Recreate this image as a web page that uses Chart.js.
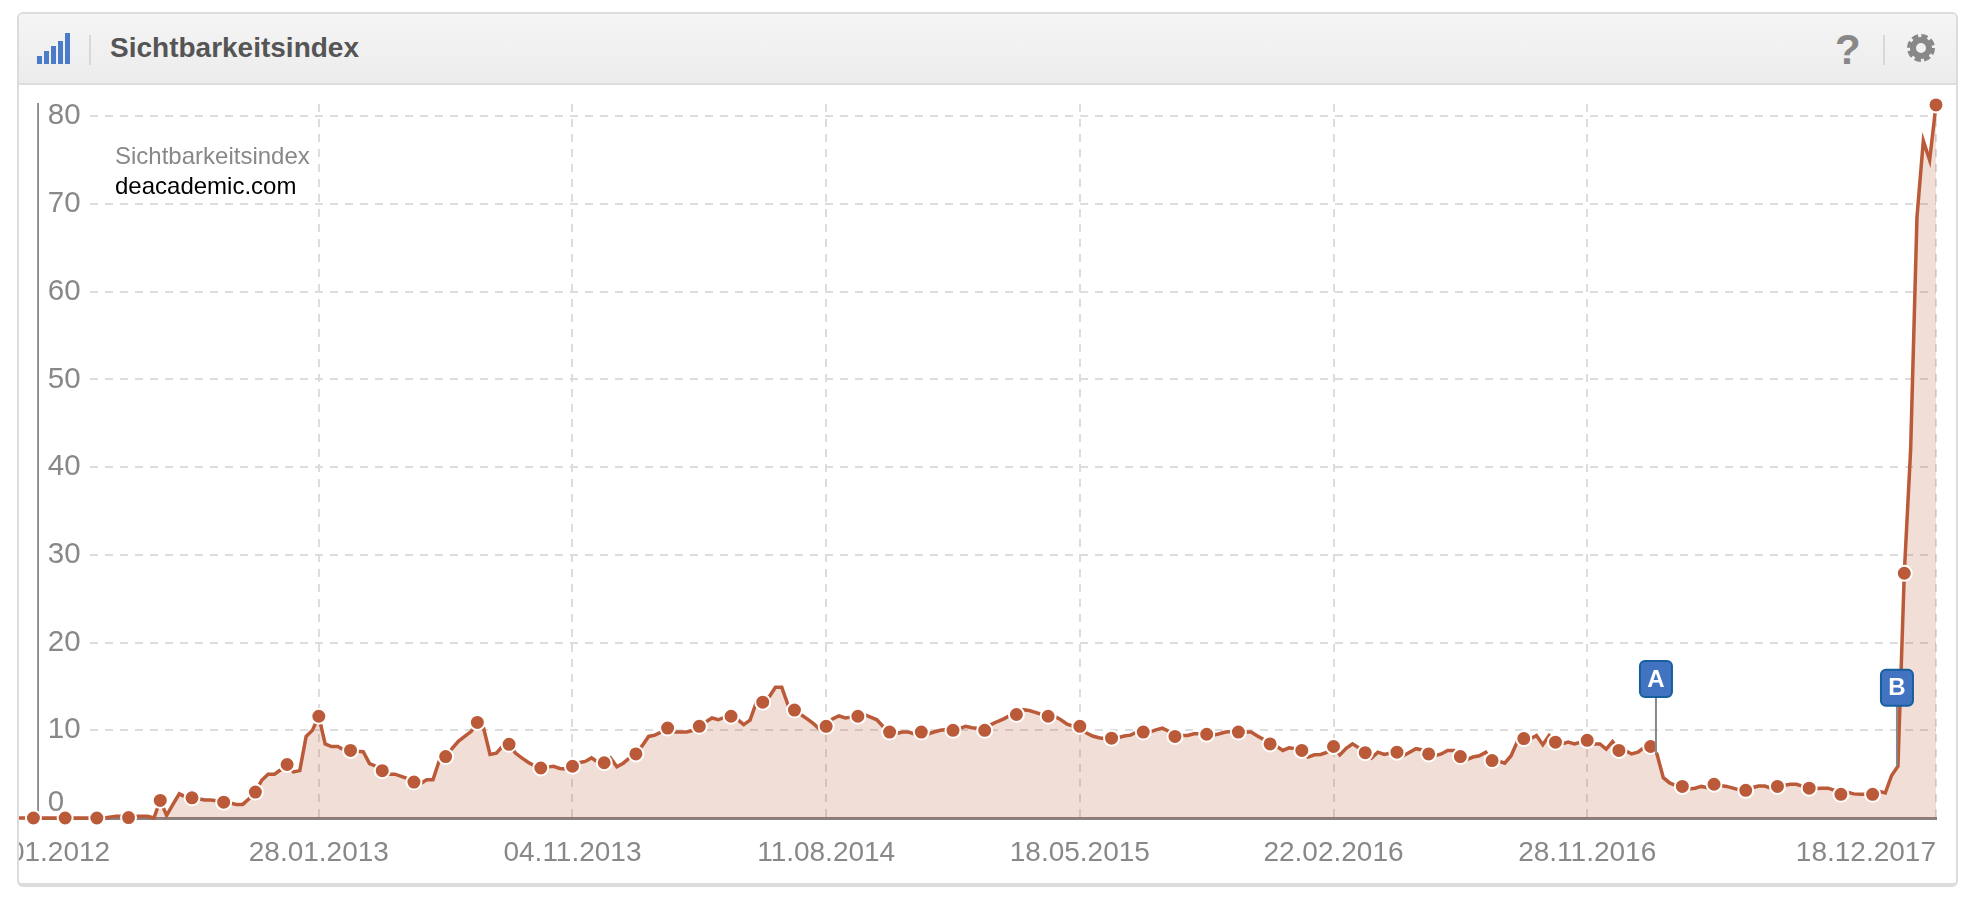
<!DOCTYPE html>
<html lang="de">
  <head>
    <meta charset="utf-8" />
    <title>Sichtbarkeitsindex</title>
    <style>
      html, body { margin: 0; width: 1970px; height: 902px; background: #fff; overflow: hidden; font-family: "Liberation Sans", Arial, sans-serif; }
      .panel { position: absolute; left: 17px; top: 12px; width: 1937px; height: 869px; border: 2px solid #dcdcdc; border-bottom-width: 4px; border-radius: 6px; box-sizing: content-box; overflow: hidden; }
      .head { position: absolute; left: 0; top: 0; width: 100%; height: 69px; background: linear-gradient(#f5f5f5, #ececec); border-bottom: 2px solid #dcdcdc; }
      .head .title { position: absolute; left: 91px; top: 18px; font-size: 28px; font-weight: bold; color: #555; line-height: 32px; }
      .head .sep { position: absolute; top: 21px; width: 2px; height: 30px; background: #d8d8d8; }
      .head .bar { position: absolute; width: 5px; background: #4a7cc9; }
      .head .help { position: absolute; left: 1816px; top: 12px; font-size: 42px; font-weight: bold; color: #888; line-height: 48px; }
      .head svg { position: absolute; left: 1887px; top: 19px; }
      .plot { position: absolute; left: 0; top: 71px; width: 1937px; height: 798px; overflow: hidden; }
      canvas { position: absolute; left: -59px; top: 0; }
      .legend { position: absolute; left: 96px; top: 56px; font-size: 24px; line-height: 30px; color: #888; }
      .legend div + div { color: #000; }
    </style>
  </head>
  <body>
    <div class="panel">
      <div class="head">
        <div class="bar" style="left:18px;top:42px;height:8px"></div>
        <div class="bar" style="left:25px;top:37px;height:13px"></div>
        <div class="bar" style="left:32px;top:32px;height:18px"></div>
        <div class="bar" style="left:39px;top:27px;height:23px"></div>
        <div class="bar" style="left:46px;top:19px;height:31px"></div>
        <div class="sep" style="left:70px"></div>
        <div class="title">Sichtbarkeitsindex</div>
        <div class="help">?</div>
        <div class="sep" style="left:1864px"></div>
        <svg width="30" height="30" viewBox="0 0 30 30">
          <circle cx="15" cy="15" r="11.5" fill="none" stroke="#888" stroke-width="5" stroke-dasharray="6 3.03"></circle>
          <circle cx="15" cy="15" r="8" fill="none" stroke="#888" stroke-width="6"></circle>
        </svg>
      </div>
      <div class="plot">
        <canvas id="sichtbarkeit" width="2000" height="785"></canvas>
        <div class="legend">
          <div>Sichtbarkeitsindex</div>
          <div>deacademic.com</div>
        </div>
      </div>
    </div>

    <script src="https://cdn.jsdelivr.net/npm/chart.js@4/dist/chart.umd.min.js"></script>
    <script>
      const SERIES_NAME = "Sichtbarkeitsindex";

      // weekly values, one row = 10 weeks
      const weeklyValues = [
        0, 0, 0, 0, 0, 0, 0, 0, 0, 0,
        0, 0, 0, 0, 0, 0, 0, 0, 0, 0,
        0, 0, 0.1, 0.2, 0.2, 0.05, 0.2, 0.2, 0.2, 0,
        2.0, 0.3, 1.55, 2.75, 2.4, 2.3, 2.2, 2.05, 2.05, 1.95,
        1.8, 1.7, 1.55, 1.55, 2.2, 2.95, 4.3, 5.0, 5.0, 5.5,
        6.1, 5.25, 5.4, 9.3, 10.0, 11.6, 8.45, 8.15, 8.15, 7.75,
        7.7, 7.6, 7.55, 6.2, 5.9, 5.4, 5.0, 5.0, 4.75, 4.5,
        4.1, 3.9, 4.35, 4.35, 6.55, 7.0, 7.9, 8.75, 9.3, 9.85,
        10.9, 10.2, 7.25, 7.4, 8.2, 8.4, 7.4, 6.85, 6.35, 5.95,
        5.7, 5.8, 5.9, 5.65, 5.6, 5.9, 6.3, 6.45, 6.85, 6.35,
        6.3, 6.85, 5.85, 6.25, 6.85, 7.3, 8.25, 9.3, 9.45, 9.8,
        10.25, 9.8, 9.8, 9.8, 10, 10.45, 10.95, 11.4, 11.2, 11.5,
        11.6, 11.25, 10.65, 11.15, 13.2, 13.2, 13.8, 14.9, 14.9, 12.85,
        12.3, 11.8, 11.3, 10.75, 10.1, 10.45, 11.3, 11.65, 11.4, 11.5,
        11.6, 11.8, 11.5, 11.2, 10.4, 9.8, 9.6, 9.8, 9.8, 9.55,
        9.8, 9.55, 9.8, 10, 10.1, 10, 10.2, 10.45, 10.3, 10.2,
        10, 10.65, 11, 11.3, 11.7, 11.8, 12.35, 12.25, 12.05, 11.8,
        11.6, 11.6, 11.2, 10.7, 10.45, 10.45, 9.7, 9.35, 9.15, 9.05,
        9.1, 9.15, 9.35, 9.45, 9.8, 9.8, 9.8, 10.05, 10.25, 9.9,
        9.3, 9.4, 9.4, 9.6, 9.6, 9.55, 9.45, 9.6, 9.8, 9.85,
        9.8, 9.8, 9.8, 9.35, 8.95, 8.45, 8.2, 7.7, 8.0, 7.9,
        7.7, 6.95, 7.2, 7.25, 7.5, 8.15, 7.2, 7.95, 8.45, 8.0,
        7.45, 6.85, 7.5, 7.25, 7.4, 7.5, 7.1, 7.5, 7.9, 7.75,
        7.3, 7.1, 7.3, 7.7, 7.7, 7.0, 6.65, 6.95, 7.1, 7.5,
        6.55, 6.5, 6.25, 7.1, 8.75, 9.05, 9.0, 9.4, 8.35, 9.4,
        8.65, 8.45, 8.65, 8.45, 8.65, 8.85, 8.45, 8.45, 7.85, 8.7,
        7.7, 7.7, 7.3, 7.5, 8.05, 8.15, 7.3, 4.6, 4.0, 3.7,
        3.6, 3.3, 3.4, 3.6, 3.45, 3.85, 3.7, 3.6, 3.4, 3.2,
        3.15, 3.45, 3.65, 3.65, 3.4, 3.6, 3.7, 3.85, 3.85, 3.6,
        3.4, 3.35, 3.4, 3.4, 3.15, 2.7, 2.95, 2.75, 2.7, 2.7,
        2.7, 3.05, 2.85, 4.85, 5.9, 27.9, 42, 68.5, 77.2, 75, 81.3,
      ];

      const dateTickIndexes = [0, 55, 95, 135, 175, 215, 255, 310];
      const dateTickLabels = ["02.01.2012", "28.01.2013", "04.11.2013", "11.08.2014", "18.05.2015", "22.02.2016", "28.11.2016", "18.12.2017"];

      const flagLetters = ["A", "B"];
      const flagWeeks = [266, 304];
      const flagLevels = [15.85, 14.85];

      const weeks = weeklyValues.map((v, i) => i);

      const LINE_COLOR = "#bb5a38";
      const GRID_COLOR = "#dddddd";
      const TEXT_COLOR = "#888888";
      const GRID_DASH = [8, 7];
      const MARKER_EVERY = 5;
      const Y_MAX = 81.4;
      const Y_LINE_AT = 10.75;

      // draws the A/B flags and wipes the grid left of the y axis
      const chartExtras = {
        id: "chartExtras",
        beforeDatasetsDraw(chart) {
          const { ctx, chartArea, scales } = chart;
          const axisX = scales.x.getPixelForValue(Y_LINE_AT);
          ctx.save();
          ctx.fillStyle = "#fff";
          ctx.fillRect(0, chartArea.top - 2, axisX - 1, chartArea.bottom - chartArea.top + 4);
          ctx.restore();
        },
        afterDatasetsDraw(chart) {
          const { ctx, scales } = chart;
          ctx.save();
          flagLetters.forEach((letter, n) => {
            const x = scales.x.getPixelForValue(flagWeeks[n]) - 1;
            const y = scales.y.getPixelForValue(flagLevels[n]);
            const base = scales.y.getPixelForValue(weeklyValues[flagWeeks[n]]);
            ctx.strokeStyle = "#888";
            ctx.lineWidth = 2;
            ctx.beginPath();
            ctx.moveTo(x, y);
            ctx.lineTo(x, base);
            ctx.stroke();
            ctx.fillStyle = "#4273c1";
            ctx.strokeStyle = "#165f9c";
            ctx.beginPath();
            ctx.roundRect(x - 16, y - 18, 32, 36, 5);
            ctx.fill();
            ctx.stroke();
            ctx.fillStyle = "#fff";
            ctx.font = "bold 24px 'Liberation Sans'";
            ctx.textAlign = "center";
            ctx.textBaseline = "middle";
            ctx.fillText(letter, x, y + 1);
          });
          ctx.restore();
        },
      };

      new Chart(document.getElementById("sichtbarkeit"), {
        type: "line",
        plugins: [chartExtras],
        data: {
          labels: weeks,
          datasets: [
            {
              label: SERIES_NAME,
              data: weeklyValues,
              borderColor: LINE_COLOR,
              borderWidth: 3.5,
              backgroundColor: "rgba(187, 90, 56, 0.2)",
              fill: "origin",
              tension: 0,
              clip: false,
              pointRadius: (ctx) => (ctx.dataIndex % MARKER_EVERY === 0 ? 7.5 : 0),
              pointBackgroundColor: LINE_COLOR,
              pointBorderColor: "#fff",
              pointBorderWidth: 2,
            },
          ],
        },
        options: {
          responsive: false,
          animation: false,
          layout: { padding: { left: 10, right: 24, top: 19, bottom: 0 } },
          plugins: { legend: { display: false }, tooltip: { enabled: false } },
          scales: {
            x: {
              type: "category",
              afterBuildTicks: (scale) => {
                scale.ticks = scale.ticks.filter((t) => dateTickIndexes.includes(t.value));
              },
              afterFit: (scale) => {
                scale.height = 52;
                scale.paddingLeft = 0;
                scale.paddingRight = 0;
              },
              border: { color: "#8a817e", width: 3, dash: GRID_DASH },
              grid: { color: GRID_COLOR, lineWidth: 2, tickLength: 0, drawTicks: false },
              ticks: {
                autoSkip: false,
                maxRotation: 0,
                align: "inner",
                padding: 18,
                color: TEXT_COLOR,
                font: { family: "'Liberation Sans'", size: 28 },
                callback: (value) => dateTickLabels[dateTickIndexes.indexOf(value)],
              },
            },
            y: {
              position: { x: 17.45 },
              min: 0,
              max: Y_MAX,
              border: { display: false, dash: GRID_DASH },
              grid: { color: GRID_COLOR, lineWidth: 2, drawTicks: false },
              afterFit: (scale) => {
                scale.paddingTop = 0;
                scale.paddingBottom = 0;
              },
              ticks: {
                stepSize: 10,
                includeBounds: false,
                color: TEXT_COLOR,
                font: (ctx) => ({ family: "'Liberation Sans'", size: 29.5, lineHeight: ctx.tick && ctx.tick.value === 0 ? 1 : 1.2 }),
                showLabelBackdrop: (ctx) => ctx.tick.value !== 0,
                backdropColor: "#fff",
                backdropPadding: { x: 5, y: 0 },
                // the 0 sits above the base line and flush left with the others
                callback: (value) => (value === 0 ? ["0\u00a0\u00a0", ""] : String(value)),
              },
            },
            yLine: {
              position: { x: Y_LINE_AT },
              min: 0,
              max: Y_MAX,
              border: { color: "#888888", width: 2 },
              grid: { display: false, drawTicks: false },
              ticks: { display: false },
            },
          },
        },
      });
    </script>
  </body>
</html>
